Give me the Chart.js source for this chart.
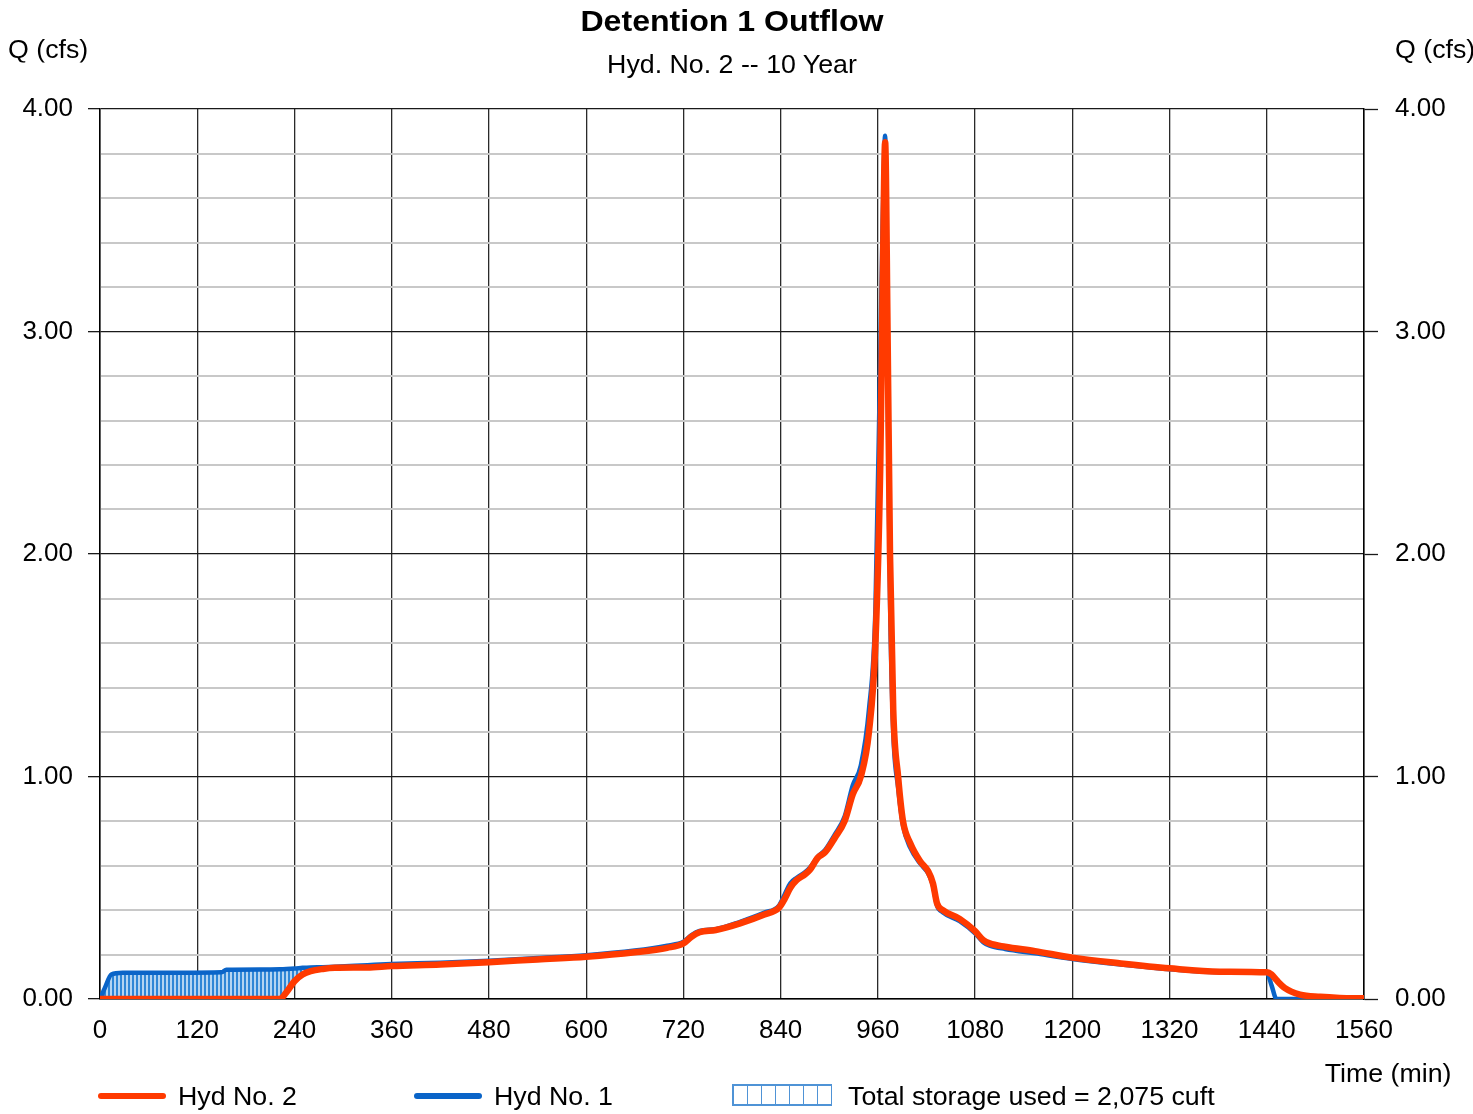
<!DOCTYPE html>
<html>
<head>
<meta charset="utf-8">
<title>Detention 1 Outflow</title>
<script src="https://cdn.jsdelivr.net/npm/chart.js@4.4.1/dist/chart.umd.min.js"></script>
<style>
  html, body { margin: 0; padding: 0; background: #fff; overflow: hidden; }
  #wrap { position: relative; width: 1473px; height: 1114px; font-family: "Liberation Sans", Arial, sans-serif; color: #000; }
  #wrap canvas { position: absolute; left: 0; top: 0; }
  .lbl { position: absolute; white-space: nowrap; line-height: 1; transform: translateY(-50%) scaleX(1.07); transform-origin: left center; font-size: 25px; }
  .ctr { transform-origin: center center; text-align: center; }
  .rgt { transform-origin: right center; }
  .title { font-weight: bold; font-size: 30px; }
  .swatch { position: absolute; height: 6px; border-radius: 3px; transform: translateY(-50%); }
  .hatch {
    position: absolute; width: 98px; height: 18px; transform: translateY(-50%);
    border: 1px solid #4f93d6; border-top-width: 2px; border-bottom-width: 2px;
    background: repeating-linear-gradient(90deg, #4f93d6 0 1px, #ffffff 1px 14px);
  }
</style>
</head>
<body>
<div id="wrap">
  <canvas id="chart"></canvas>
  <div class="lbl ctr title" style="left:532px;width:400px;top:21px;">Detention 1 Outflow</div>
  <div class="lbl ctr" style="left:532px;width:400px;top:64px;">Hyd. No. 2 -- 10 Year</div>
  <div class="lbl" style="left:8px;top:49px;">Q (cfs)</div>
  <div class="lbl" style="left:1395px;top:49px;">Q (cfs)</div>
  <div class="lbl rgt" style="right:21px;top:1073px;">Time (min)</div>

  <div class="swatch" style="left:98px;width:68px;top:1096px;background:#ff3a00;"></div>
  <div class="lbl" style="left:178px;top:1096px;">Hyd No. 2</div>
  <div class="swatch" style="left:414px;width:68px;top:1096px;background:#0a64c8;"></div>
  <div class="lbl" style="left:494px;top:1096px;">Hyd No. 1</div>
  <div class="hatch" style="left:732px;top:1095px;"></div>
  <div class="lbl" style="left:848px;top:1096px;">Total storage used = 2,075 cuft</div>
</div>

<script>
/* ── Data ─────────────────────────────────────────────────── */

const minutes = [
  0, 6, 14, 28, 60, 100, 150, 156, 200, 222, 230, 240, 250, 260, 275, 290,
  330, 360, 420, 480, 540, 600, 660, 700, 720, 730, 740, 760, 790, 820, 838,
  845, 852, 860, 870, 876, 886, 895, 907, 919, 929, 939, 949, 957, 963, 966,
  969, 972, 975, 979, 985, 991, 1000, 1012, 1022, 1028, 1033, 1040, 1061,
  1080, 1090, 1098, 1117, 1154, 1200, 1260, 1320, 1382, 1440, 1446, 1452,
  1462, 1481, 1506, 1530, 1560
];

// Hyd No. 2 (outflow)
const hyd2 = [
  0, 0, 0, 0, 0, 0, 0, 0, 0, 0, 0.03, 0.08, 0.11, 0.125, 0.135, 0.14,
  0.142, 0.148, 0.155, 0.165, 0.178, 0.19, 0.21, 0.23, 0.25, 0.28, 0.30, 0.31, 0.34, 0.38, 0.41,
  0.45, 0.50, 0.535, 0.56, 0.58, 0.635, 0.66, 0.725, 0.80, 0.92, 1.0, 1.2, 1.6, 2.4, 3.2,
  3.85, 3.0, 2.0, 1.3, 1.0, 0.80, 0.70, 0.62, 0.575, 0.52, 0.43, 0.40, 0.36,
  0.305, 0.265, 0.25, 0.235, 0.215, 0.186, 0.16, 0.138, 0.123, 0.12, 0.11, 0.085,
  0.05, 0.02, 0.01, 0.005, 0.003
];

// Hyd No. 1 (inflow)
const hyd1 = [
  0, 0.05, 0.11, 0.118, 0.118, 0.118, 0.12, 0.132, 0.133, 0.134, 0.135, 0.137, 0.14, 0.142, 0.143, 0.145,
  0.152, 0.157, 0.163, 0.172, 0.184, 0.197, 0.218, 0.24, 0.257, 0.287, 0.306, 0.314, 0.347, 0.388, 0.42,
  0.47, 0.52, 0.545, 0.57, 0.59, 0.64, 0.67, 0.74, 0.82, 0.96, 1.05, 1.3, 1.75, 2.9, 3.5,
  3.88, 2.8, 1.8, 1.2, 0.95, 0.78, 0.68, 0.61, 0.565, 0.51, 0.42, 0.39, 0.35,
  0.295, 0.255, 0.24, 0.225, 0.205, 0.18, 0.155, 0.134, 0.12, 0.118, 0.06, 0,
  0, 0, 0, 0, 0
];

const xTicks = [0, 120, 240, 360, 480, 600, 720, 840, 960, 1080, 1200, 1320, 1440, 1560];

/* ── Helpers ──────────────────────────────────────────────── */

const FONT = '"Liberation Sans", Arial, sans-serif';

function isMajor(v) {
  return Math.abs(v - Math.round(v)) < 1e-6;
}

// vertical-line hatch for the storage area
function makeHatch() {
  const c = document.createElement('canvas');
  c.width = 4;
  c.height = 4;
  const g = c.getContext('2d');
  g.fillStyle = '#b4d4f2';
  g.fillRect(0, 0, 4, 4);
  g.fillStyle = '#2f86d6';
  g.fillRect(0, 0, 2, 4);
  return g.createPattern(c, 'repeat');
}

/* ── Chart ────────────────────────────────────────────────── */

const canvas = document.getElementById('chart');
canvas.width = 1473;
canvas.height = 1114;
canvas.style.width = '1473px';
canvas.style.height = '1114px';

const yTickOpts = {
  color: '#000',
  font: { family: FONT, size: 26 },
  stepSize: 0.2,
  autoSkip: false,
  callback: (v) => (isMajor(v) ? Number(v).toFixed(2) : ''),
};

new Chart(canvas, {
  type: 'line',
  data: {
    datasets: [
      {
        label: 'Hyd No. 2',
        data: minutes.map((t, i) => ({ x: t, y: hyd2[i] })),
        borderColor: '#ff3a00',
        borderWidth: 6.5,
        pointRadius: 0,
        cubicInterpolationMode: 'monotone',
        borderCapStyle: 'round',
        borderJoinStyle: 'round',
        fill: false,
      },
      {
        label: 'Hyd No. 1',
        data: minutes.map((t, i) => ({ x: t, y: hyd1[i] })),
        borderColor: '#0a64c8',
        borderWidth: 4.5,
        pointRadius: 0,
        cubicInterpolationMode: 'monotone',
        borderCapStyle: 'round',
        borderJoinStyle: 'round',
        fill: { target: 0, above: makeHatch(), below: 'rgba(0,0,0,0)' },
      },
    ],
  },
  options: {
    responsive: false,
    animation: false,
    devicePixelRatio: 1,
    layout: { padding: { left: 0, right: 0, top: 109, bottom: 65 } },
    plugins: {
      legend: { display: false },
      title: { display: false },
      tooltip: { enabled: false },
    },
    scales: {
      x: {
        type: 'linear',
        min: 0,
        max: 1560,
        afterBuildTicks: (axis) => { axis.ticks = xTicks.map((v) => ({ value: v })); },
        afterFit: (axis) => { axis.height = 50; },
        ticks: {
          color: '#000',
          font: { family: FONT, size: 26 },
          padding: 16,
          maxRotation: 0,
          autoSkip: false,
          callback: (v) => String(v),
        },
        grid: { color: '#2a2a2a', lineWidth: 1.3, drawTicks: false },
        border: { color: '#000', width: 1.5 },
      },
      y: {
        position: 'left',
        min: 0,
        max: 4,
        afterFit: (axis) => { axis.width = 100; },
        ticks: { ...yTickOpts, padding: 15 },
        grid: {
          color: (ctx) => (isMajor(ctx.tick.value) ? '#1a1a1a' : '#c8c8c8'),
          lineWidth: (ctx) => (isMajor(ctx.tick.value) ? 1.3 : 2),
          tickColor: (ctx) => (isMajor(ctx.tick.value) ? '#1a1a1a' : 'rgba(0,0,0,0)'),
          tickWidth: 1.3,
          tickLength: 12,
        },
        border: { color: '#000', width: 1.5 },
      },
      y2: {
        position: 'right',
        min: 0,
        max: 4,
        afterFit: (axis) => { axis.width = 109; },
        ticks: { ...yTickOpts, padding: 17 },
        grid: {
          drawOnChartArea: false,
          tickColor: (ctx) => (isMajor(ctx.tick.value) ? '#1a1a1a' : 'rgba(0,0,0,0)'),
          tickWidth: 1.3,
          tickLength: 14,
        },
        border: { color: '#000', width: 1.5 },
      },
    },
  },
});
</script>
</body>
</html>
